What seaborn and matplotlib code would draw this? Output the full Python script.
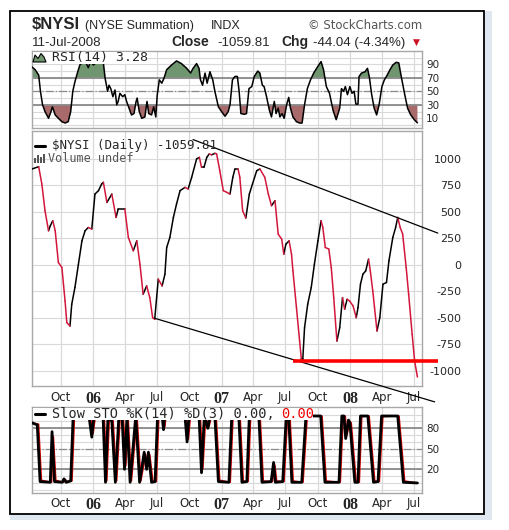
"""StockCharts-style $NYSI summation chart with RSI and slow stochastic panels."""

import matplotlib

matplotlib.use("Agg")

import matplotlib.pyplot as plt
from matplotlib.lines import Line2D
from matplotlib.patches import Polygon, Rectangle
import numpy as np
import pandas as pd
import seaborn as sns

# ---- data ----
nysi_dates = [
    "2005-07-11", "2005-07-30", "2005-08-08", "2005-08-17", "2005-08-27", "2005-09-01",
    "2005-09-08", "2005-09-15", "2005-09-24", "2005-10-04", "2005-10-13", "2005-10-18",
    "2005-10-27", "2005-11-01", "2005-11-10", "2005-11-20", "2005-11-30", "2005-12-09",
    "2005-12-18", "2005-12-28", "2006-01-06", "2006-01-16", "2006-01-25", "2006-01-30",
    "2006-02-09", "2006-02-23", "2006-03-07", "2006-03-13", "2006-04-01", "2006-04-11",
    "2006-04-25", "2006-05-05", "2006-05-14", "2006-05-23", "2006-06-02", "2006-06-11",
    "2006-06-19", "2006-06-25", "2006-07-05", "2006-07-16", "2006-07-24", "2006-07-29",
    "2006-08-07", "2006-08-17", "2006-08-26", "2006-09-05", "2006-09-19", "2006-09-28",
    "2006-10-08", "2006-10-22", "2006-10-30", "2006-11-05", "2006-11-12", "2006-11-20",
    "2006-11-27", "2006-12-04", "2006-12-13", "2006-12-18", "2006-12-27", "2007-01-06",
    "2007-01-16", "2007-01-25", "2007-02-02", "2007-02-08", "2007-02-17", "2007-02-22",
    "2007-03-02", "2007-03-11", "2007-03-21", "2007-03-30", "2007-04-11", "2007-04-20",
    "2007-05-04", "2007-05-14", "2007-05-23", "2007-06-02", "2007-06-11", "2007-06-21",
    "2007-06-27", "2007-07-03", "2007-07-12", "2007-07-19", "2007-07-23", "2007-08-02",
    "2007-08-11", "2007-08-16", "2007-08-20", "2007-08-25", "2007-09-03", "2007-09-13",
    "2007-09-22", "2007-10-02", "2007-10-11", "2007-10-16", "2007-10-23", "2007-11-02",
    "2007-11-09", "2007-11-16", "2007-11-25", "2007-12-03", "2007-12-11", "2007-12-17",
    "2007-12-24", "2007-12-31", "2008-01-10", "2008-01-19", "2008-01-24", "2008-01-31",
    "2008-02-07", "2008-02-15", "2008-02-23", "2008-02-28", "2008-03-06", "2008-03-11",
    "2008-03-18", "2008-03-26", "2008-04-04", "2008-04-14", "2008-04-21", "2008-05-02",
    "2008-05-10", "2008-05-16", "2008-05-23", "2008-05-30", "2008-06-09", "2008-06-16",
    "2008-06-26", "2008-07-03", "2008-07-11",
]
nysi_values = [
    906, 928, 764, 511, 322, 369, 417, 322, 22, -25,
    -341, -546, -578, -372, -215, 6, 227, 322, 353, 338,
    669, 701, 764, 780, 590, 669, 448, 527, 527, 259,
    133, 227, 6, -277, -199, -310, -499, -514, -135, -199,
    -88, 164, 259, 448, 575, 701, 732, 717, 827, 1001,
    1016, 921, 921, 1016, 1048, 1040, 1054, 1048, 890, 701,
    685, 669, 827, 906, 906, 827, 511, 442, 669, 764,
    890, 906, 827, 669, 559, 606, 291, 243, 101, 196,
    227, 101, -57, -404, -720, -893, -893, -594, -372, -215,
    6, 227, 417, 353, 164, 149, -25, -310, -720, -594,
    -310, -420, -325, -341, -388, -499, -404, -183, -88, -57,
    54, -57, -246, -404, -625, -499, -183, -167, 38, 259,
    353, 448, 353, 291, -25, -277, -657, -909, -1059.81,
]

rsi_dates = [
    "2005-07-11", "2005-07-20", "2005-07-30", "2005-08-04", "2005-08-10", "2005-08-17",
    "2005-08-27", "2005-09-03", "2005-09-07", "2005-09-15", "2005-09-24", "2005-10-04",
    "2005-10-13", "2005-10-22", "2005-10-29", "2005-11-04", "2005-11-10", "2005-11-17",
    "2005-11-24", "2005-12-04", "2005-12-12", "2005-12-18", "2005-12-24", "2006-01-02",
    "2006-01-10", "2006-01-30", "2006-02-04", "2006-02-11", "2006-02-15", "2006-02-20",
    "2006-02-26", "2006-03-04", "2006-03-09", "2006-03-13", "2006-03-18", "2006-03-26",
    "2006-04-01", "2006-04-06", "2006-04-13", "2006-04-20", "2006-04-27", "2006-05-03",
    "2006-05-06", "2006-05-12", "2006-05-19", "2006-05-28", "2006-06-03", "2006-06-08",
    "2006-06-16", "2006-06-22", "2006-06-28", "2006-07-02", "2006-07-08", "2006-07-15",
    "2006-07-21", "2006-07-29", "2006-08-12", "2006-08-26", "2006-09-09", "2006-09-24",
    "2006-10-05", "2006-10-12", "2006-10-22", "2006-10-29", "2006-11-02", "2006-11-08",
    "2006-11-15", "2006-11-21", "2006-11-29", "2006-12-07", "2006-12-13", "2006-12-23",
    "2007-01-01", "2007-01-11", "2007-01-20", "2007-01-25", "2007-02-01", "2007-02-08",
    "2007-02-15", "2007-02-20", "2007-02-25", "2007-03-07", "2007-03-13", "2007-03-20",
    "2007-03-28", "2007-04-04", "2007-04-14", "2007-04-20", "2007-04-27", "2007-05-02",
    "2007-05-09", "2007-05-17", "2007-05-23", "2007-05-31", "2007-06-05", "2007-06-11",
    "2007-06-16", "2007-06-22", "2007-06-28", "2007-07-05", "2007-07-11", "2007-07-16",
    "2007-07-23", "2007-08-02", "2007-08-11", "2007-08-18", "2007-08-25", "2007-09-02",
    "2007-09-11", "2007-09-20", "2007-10-02", "2007-10-11", "2007-10-18", "2007-10-26",
    "2007-11-04", "2007-11-14", "2007-11-23", "2007-12-03", "2007-12-08", "2007-12-14",
    "2007-12-19", "2007-12-25", "2008-01-01", "2008-01-07", "2008-01-13", "2008-01-18",
    "2008-01-24", "2008-01-27", "2008-02-03", "2008-02-13", "2008-02-20", "2008-02-25",
    "2008-03-03", "2008-03-10", "2008-03-17", "2008-03-24", "2008-04-01", "2008-04-08",
    "2008-04-14", "2008-04-24", "2008-05-02", "2008-05-12", "2008-05-19", "2008-05-27",
    "2008-06-05", "2008-06-13", "2008-06-22", "2008-07-02", "2008-07-11",
]
rsi_values = [
    86, 82, 74, 50, 30, 20, 10, 20, 27, 15,
    10, 5, 3, 5, 20, 50, 64, 77, 89, 94,
    92, 85, 94, 89, 93, 92, 69, 50, 59, 54,
    42, 52, 30, 35, 47, 42, 45, 35, 25, 15,
    17, 35, 40, 20, 10, 12, 35, 17, 15, 27,
    12, 44, 67, 62, 69, 82, 89, 95, 91, 84,
    77, 84, 91, 84, 67, 59, 77, 62, 79, 67,
    50, 27, 20, 13, 20, 30, 67, 72, 72, 50,
    17, 16, 17, 54, 57, 72, 80, 77, 59, 57,
    42, 22, 12, 35, 17, 25, 12, 17, 10, 30,
    41, 25, 12, 5, 3, 3, 30, 54, 67, 77,
    87, 94, 82, 57, 47, 22, 8, 25, 54, 50,
    57, 45, 57, 47, 50, 31, 31, 72, 77, 79,
    84, 72, 45, 25, 15, 30, 57, 67, 72, 82,
    89, 93, 92, 69, 45, 25, 15, 8, 3.28,
]

# slow stochastic %K (black) and %D (red, trailing a few days behind)
sto_k_dates = [
    "2005-07-11", "2005-07-26", "2005-08-03", "2005-09-01", "2005-09-06", "2005-09-13",
    "2005-10-05", "2005-10-10", "2005-10-16", "2005-10-29", "2005-11-05", "2005-12-20",
    "2005-12-28", "2006-01-03", "2006-01-29", "2006-02-05", "2006-02-12", "2006-02-23",
    "2006-03-05", "2006-03-15", "2006-03-24", "2006-03-31", "2006-04-07", "2006-04-16",
    "2006-05-02", "2006-05-13", "2006-05-26", "2006-06-02", "2006-06-07", "2006-06-16",
    "2006-06-26", "2006-07-03", "2006-07-16", "2006-07-20", "2006-07-23", "2006-09-19",
    "2006-09-25", "2006-09-30", "2006-10-29", "2006-11-05", "2006-11-13", "2006-11-23",
    "2006-11-29", "2006-12-13", "2006-12-23", "2007-01-22", "2007-01-30", "2007-02-19",
    "2007-02-28", "2007-03-14", "2007-03-21", "2007-04-17", "2007-04-26", "2007-05-22",
    "2007-05-29", "2007-06-03", "2007-06-24", "2007-07-04", "2007-07-11", "2007-07-20",
    "2007-08-17", "2007-08-29", "2007-10-10", "2007-10-22", "2007-12-01", "2007-12-09",
    "2007-12-15", "2007-12-20", "2007-12-28", "2008-01-01", "2008-01-15", "2008-01-24",
    "2008-01-31", "2008-02-21", "2008-03-08", "2008-03-21", "2008-03-31", "2008-05-16",
    "2008-06-01", "2008-07-11",
]
sto_k = [
    88, 85, 2, 1, 75, 2, 1, 6, 1, 3,
    98, 98, 67, 98, 98, 1, 96, 90, 1, 98,
    98, 20, 96, 1, 98, 1, 45, 20, 45, 1,
    2, 98, 98, 78, 98, 98, 60, 95, 98, 15,
    98, 80, 98, 98, 2, 1, 98, 98, 1, 2,
    98, 98, 1, 2, 30, 1, 2, 98, 95, 1,
    1, 98, 98, 1, 1, 98, 98, 65, 92, 88,
    1, 1, 98, 98, 1, 2, 98, 98, 1, 0,
]
sto_d_dates = [
    "2005-07-11", "2005-07-30", "2005-08-07", "2005-09-05", "2005-09-10", "2005-09-17",
    "2005-10-09", "2005-10-14", "2005-10-20", "2005-11-02", "2005-11-09", "2005-12-24",
    "2006-01-01", "2006-01-07", "2006-02-02", "2006-02-09", "2006-02-16", "2006-02-27",
    "2006-03-09", "2006-03-19", "2006-03-28", "2006-04-04", "2006-04-11", "2006-04-20",
    "2006-05-06", "2006-05-17", "2006-05-30", "2006-06-06", "2006-06-11", "2006-06-20",
    "2006-06-30", "2006-07-07", "2006-07-20", "2006-07-24", "2006-07-27", "2006-09-23",
    "2006-09-29", "2006-10-04", "2006-11-02", "2006-11-09", "2006-11-17", "2006-11-27",
    "2006-12-03", "2006-12-17", "2006-12-27", "2007-01-26", "2007-02-03", "2007-02-23",
    "2007-03-04", "2007-03-18", "2007-03-25", "2007-04-21", "2007-04-30", "2007-05-26",
    "2007-06-02", "2007-06-07", "2007-06-28", "2007-07-08", "2007-07-15", "2007-07-24",
    "2007-08-21", "2007-09-02", "2007-10-14", "2007-10-26", "2007-12-05", "2007-12-13",
    "2007-12-19", "2007-12-24", "2008-01-01", "2008-01-05", "2008-01-19", "2008-01-28",
    "2008-02-04", "2008-02-25", "2008-03-12", "2008-03-25", "2008-04-04", "2008-05-20",
    "2008-06-05", "2008-07-11",
]
sto_d = [
    88, 86, 4, 1, 68, 4, 1, 5, 2, 3,
    97, 98, 72, 96, 98, 3, 93, 91, 3, 97,
    98, 25, 92, 3, 97, 3, 42, 24, 42, 3,
    2, 97, 98, 82, 96, 98, 64, 93, 98, 20,
    95, 83, 97, 98, 4, 1, 97, 98, 3, 2,
    97, 98, 3, 2, 26, 3, 2, 97, 96, 3,
    1, 97, 98, 3, 1, 97, 98, 70, 90, 88,
    3, 1, 97, 98, 3, 2, 97, 98, 3, 0,
]

tick_dates = [
    "2005-10-01", "2006-01-01", "2006-04-01", "2006-07-01", "2006-10-01", "2007-01-01",
    "2007-04-01", "2007-07-01", "2007-10-01", "2008-01-01", "2008-04-01", "2008-07-01",
]
tick_labels = ["Oct", "06", "Apr", "Jul", "Oct", "07", "Apr", "Jul", "Oct", "08", "Apr", "Jul"]
main_ticks = [-1000, -750, -500, -250, 0, 250, 500, 750, 1000]

# trend lines drawn on the chart: (start date, end date), (start value, end value)
upper_trend = (["2006-10-12", "2008-09-07"], [1184, 300])
lower_trend = (["2006-06-25", "2008-08-29"], [-505, -1295])
support_line = (["2007-07-23", "2008-09-08"], [-905, -905])

# ---- layout helpers (pixel coordinates, origin top-left) ----
W, H = 509, 530


def fx(x):
    return x / W


def fy(y):
    return 1 - y / H


def panel(x0, y0, x1, y1):
    return [fx(x0), fy(y1), (x1 - x0) / W, (y1 - y0) / H]


sns.set_theme(style="white", context="notebook")
plt.rcParams["font.family"] = ["DejaVu Sans"]

GRID = "#d9d9d9"
SPINE = "#a8a8a8"
LEVEL = "#8a8a8a"
UP, DOWN = "black", "#d3173c"
MONO = "DejaVu Sans Mono"

fig = plt.figure(figsize=(W / 100, H / 100), dpi=100)
fig.patch.set_facecolor("white")

ax_rsi = fig.add_axes(panel(32, 51, 422, 128.3))
ax_main = fig.add_axes(panel(32, 131, 422, 386))
ax_sto = fig.add_axes(panel(32, 407.3, 422, 493.3))

x_start, x_end = pd.Timestamp("2005-07-11"), pd.Timestamp("2008-07-24")
tick_pos = pd.to_datetime(tick_dates)


def base_style(ax, ylim, hgrid):
    ax.set_facecolor("white")
    ax.set_xlim(x_start, x_end)
    ax.set_ylim(*ylim)
    ax.set_xlabel("")
    ax.set_ylabel("")
    for spine in ax.spines.values():
        spine.set_color(SPINE)
        spine.set_linewidth(1.0)
    for t in tick_pos:
        ax.axvline(t, color=GRID, lw=0.9, zorder=0)
    for g in hgrid:
        ax.axhline(g, color=GRID, lw=0.8, zorder=0)
    ax.yaxis.tick_right()
    ax.tick_params(length=0)


def month_labels(ax, pad):
    ax.set_xticks(tick_pos, tick_labels)
    ax.tick_params(axis="x", length=0, pad=pad)
    for lab in ax.get_xticklabels():
        if lab.get_text().isdigit():
            lab.set_fontfamily("Liberation Serif")
            lab.set_fontweight("bold")
            lab.set_fontsize(11.5)
        else:
            lab.set_fontsize(8.5)


# ---- RSI panel ----
rsi_x = pd.to_datetime(rsi_dates)
rsi_y = np.array(rsi_values, dtype=float)
ax_rsi.fill_between(rsi_x, rsi_y, 70, where=rsi_y >= 70, interpolate=True,
                    color="#6f966f", lw=0, zorder=1)
ax_rsi.fill_between(rsi_x, rsi_y, 30, where=rsi_y <= 30, interpolate=True,
                    color="#a86a6a", lw=0, zorder=1)
sns.lineplot(x=rsi_x, y=rsi_y, color="black", lw=1.1, ax=ax_rsi, zorder=3)
base_style(ax_rsi, (-4.8, 109.7), range(0, 101, 10))
ax_rsi.axhline(70, color=LEVEL, lw=1.3, zorder=2)
ax_rsi.axhline(30, color=LEVEL, lw=1.3, zorder=2)
ax_rsi.axhline(50, color=LEVEL, lw=0.9, ls="-.", zorder=2)
ax_rsi.set_xticks(tick_pos)
ax_rsi.tick_params(axis="x", labelbottom=False)
ax_rsi.set_yticks([10, 30, 50, 70, 90])
ax_rsi.tick_params(axis="y", pad=3, labelsize=7.5)

# ---- main $NYSI panel: black on up days, red on down days ----
nysi = pd.DataFrame({"date": pd.to_datetime(nysi_dates), "value": nysi_values})
rows = []
for i in range(len(nysi) - 1):
    direction = "up" if nysi.value[i + 1] >= nysi.value[i] else "down"
    for j in (i, i + 1):
        rows.append({"date": nysi.date[j], "value": nysi.value[j], "seg": i, "dir": direction})
segments = pd.DataFrame(rows)
sns.lineplot(data=segments, x="date", y="value", units="seg", estimator=None,
             hue="dir", palette={"up": UP, "down": DOWN}, lw=1.1, legend=False,
             ax=ax_main, zorder=3)
base_style(ax_main, (-1145, 1265), main_ticks)
ax_main.set_yticks(main_ticks, [str(v) for v in main_ticks])
for lab in ax_main.get_yticklabels():
    lab.set_horizontalalignment("right")
ax_main.tick_params(axis="y", pad=28.4, labelsize=8)
month_labels(ax_main, pad=3.5)

for dates, vals in (upper_trend, lower_trend):
    ax_main.plot(pd.to_datetime(dates), vals, color="black", lw=0.9,
                 clip_on=False, zorder=4)
ax_main.plot(pd.to_datetime(support_line[0]), support_line[1], color="#ff0000",
             lw=2.6, solid_capstyle="butt", clip_on=False, zorder=5)

# ---- slow stochastic panel ----
sns.lineplot(x=pd.to_datetime(sto_d_dates), y=sto_d, color="#dd0000", lw=1.0,
             ax=ax_sto, zorder=2)
sns.lineplot(x=pd.to_datetime(sto_k_dates), y=sto_k, color="black", lw=2.0,
             ax=ax_sto, zorder=3)
base_style(ax_sto, (-15.1, 110.7), range(-10, 101, 10))
ax_sto.axhline(80, color=LEVEL, lw=1.3, zorder=1)
ax_sto.axhline(20, color=LEVEL, lw=1.3, zorder=1)
ax_sto.axhline(50, color=LEVEL, lw=0.9, ls="-.", zorder=1)
ax_sto.set_yticks([20, 50, 80])
ax_sto.tick_params(axis="y", pad=3, labelsize=7.5)
month_labels(ax_sto, pad=3)


# ---- overlay labels ----
def ftext(x, y, s, **kw):
    fig.text(fx(x), fy(y), s, **kw)


# RSI label box with mini-chart icon
fig.add_artist(Rectangle((fx(32.6), fy(63.5)), (148 - 32.6) / W, 12 / H,
                         transform=fig.transFigure, facecolor="white", lw=0, zorder=5))
icon = [(33, 62), (35, 55), (38, 58.5), (41, 53.5), (44, 57), (46, 62)]
fig.add_artist(Polygon([(fx(a), fy(b)) for a, b in icon], closed=True,
                       transform=fig.transFigure, facecolor="#6f966f",
                       edgecolor="black", lw=0.8, zorder=6))
ftext(51.5, 57.5, "RSI(14) 3.28", family=MONO, fontsize=9.5, va="center", zorder=6)

# main legend
fig.add_artist(Line2D([fx(35), fx(45)], [fy(145.5)] * 2, transform=fig.transFigure,
                      color="black", lw=2.2, zorder=6))
ftext(51.5, 145.5, r"\$NYSI (Daily) -1059.81", family=MONO, fontsize=9, va="center", zorder=6)
for k, hgt in enumerate([5, 8, 6, 9]):
    fig.add_artist(Rectangle((fx(33.5 + 3.2 * k), fy(163)), 2 / W, hgt / H,
                             transform=fig.transFigure, facecolor="#555555", lw=0, zorder=6))
ftext(48, 158.5, "Volume undef", family=MONO, fontsize=8.5, color="#555555",
      va="center", zorder=6)

# stochastic label box
fig.add_artist(Rectangle((fx(32.6), fy(420)), (313 - 32.6) / W, 12.2 / H,
                         transform=fig.transFigure, facecolor="white", lw=0, zorder=5))
fig.add_artist(Line2D([fx(35), fx(45)], [fy(414.3)] * 2, transform=fig.transFigure,
                      color="black", lw=2.2, zorder=6))
ftext(51.5, 414.3, "Slow STO %K(14) %D(3) 0.00, ", family=MONO, fontsize=9.8,
      va="center", zorder=6)
ftext(281.5, 414.3, "0.00", family=MONO, fontsize=9.8, color="#ee0000",
      va="center", zorder=6)

# ---- header ----
ftext(31.7, 29.3, r"\$NYSI", family="Liberation Sans", fontweight="bold", fontsize=12)
ftext(85, 29.3, "(NYSE Summation)", family="Liberation Sans", fontsize=9)
ftext(210.7, 29.3, "INDX", family="Liberation Sans", fontsize=9)
ftext(422, 29.3, "\u00a9 StockCharts.com", fontsize=8.4, color="#555555", ha="right")
ftext(31.7, 46, "11-Jul-2008", family="Liberation Sans", fontsize=9.5)
ftext(171.7, 46, "Close", family="Liberation Sans", fontweight="bold", fontsize=10)
ftext(217, 46, "-1059.81", family="Liberation Sans", fontsize=9.5)
ftext(281, 46, "Chg", family="Liberation Sans", fontweight="bold", fontsize=10)
ftext(313, 46, "-44.04 (-4.34%)", family="Liberation Sans", fontsize=9.5)
ftext(413, 45, "\u25bc", fontsize=6.5, color="#cc1122")

# ---- outer frame and page edge ----
fig.add_artist(Rectangle((fx(484.5), fy(520)), 7 / W, 509 / H, transform=fig.transFigure,
                         facecolor="#dfe7f1", lw=0, zorder=0))
fig.add_artist(Rectangle((fx(10), fy(520)), 481.5 / W, 6 / H, transform=fig.transFigure,
                         facecolor="#dfe7f1", lw=0, zorder=0))
fig.add_artist(Rectangle((fx(10), fy(513.5)), 473.5 / W, 502.5 / H,
                         transform=fig.transFigure, fill=False, edgecolor="black",
                         lw=1.3, zorder=7))

fig.savefig("out.png", dpi=100)
plt.close(fig)
